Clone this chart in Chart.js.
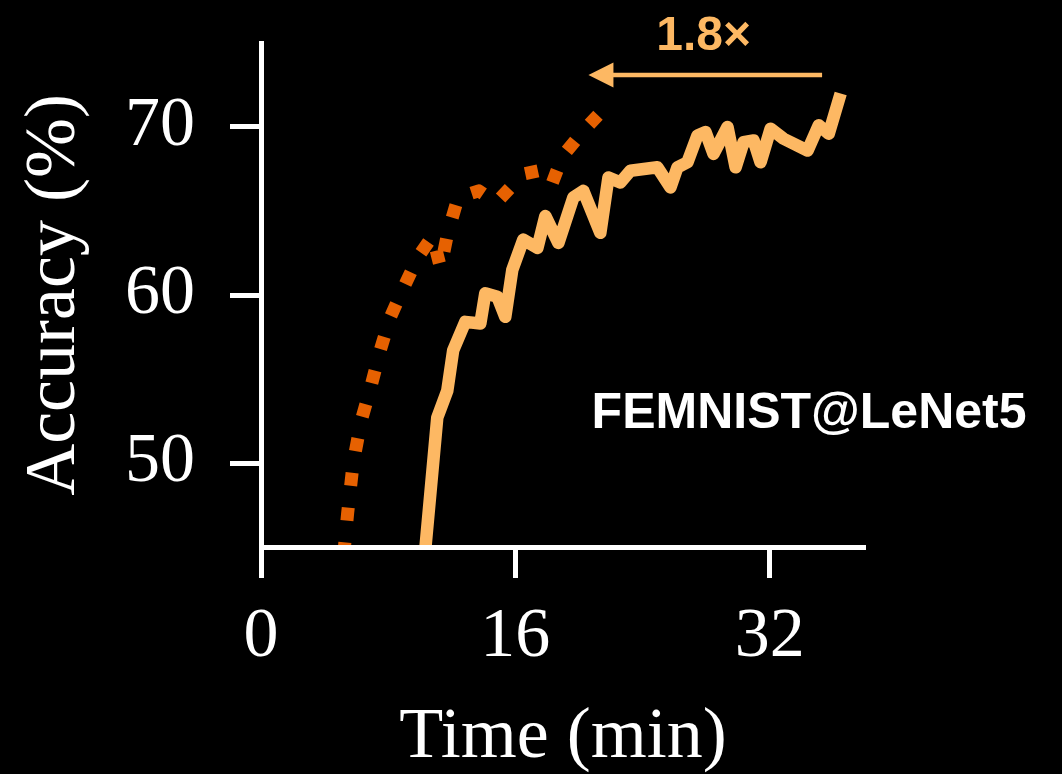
<!DOCTYPE html>
<html>
<head>
<meta charset="utf-8">
<script src="https://cdn.jsdelivr.net/npm/chart.js@4.4.1/dist/chart.umd.min.js"></script>
<style>
  html, body { margin: 0; padding: 0; background: #000; }
  canvas { display: block; }
</style>
</head>
<body>
<canvas id="accChart" width="1062" height="774"></canvas>
<script>
// faster run (dotted)
const timeFast = [5.2, 5.45, 5.8, 6.3, 6.9, 7.5, 8.1, 9.0, 9.9, 10.8, 11.3, 11.75, 12.4, 13.7, 14.8, 16.5, 17.5, 18.0, 18.3, 18.7, 19.0, 20.4, 21.2];
const accFast = [44.5, 47.0, 50.0, 52.5, 54.5, 56.7, 58.6, 60.5, 62.3, 63.5, 61.6, 63.7, 65.8, 66.2, 65.5, 67.2, 67.4, 67.1, 66.6, 67.6, 68.3, 69.9, 70.7];

// baseline run (solid)
const timeBase = [10.3, 11.09, 11.72, 12.09, 12.85, 13.8, 14.11, 14.87, 15.37, 15.81, 16.5, 17.39, 17.89, 18.71, 19.65, 20.28, 21.35, 21.86, 22.61, 23.24, 24.94, 25.76, 26.2, 26.83, 27.46, 27.97, 28.47, 29.35, 29.86, 30.36, 30.99, 31.43, 32.06, 32.88, 34.39, 35.09, 35.72, 36.47];
const accBase = [44.5, 52.7, 54.3, 56.7, 58.4, 58.3, 60.1, 59.9, 58.7, 61.5, 63.3, 62.8, 64.7, 63.1, 65.8, 66.2, 63.7, 67.0, 66.7, 67.4, 67.6, 66.4, 67.6, 67.9, 69.5, 69.7, 68.4, 70.0, 67.6, 69.1, 69.2, 67.9, 69.9, 69.3, 68.6, 70.1, 69.6, 72.0];

const xTicks = [0, 16, 32];
const yTicks = [50, 60, 70];

// speedup arrow (time from -> to, at accuracy level)
const arrowFrom = 35.3, arrowTo = 20.6, arrowAcc = 73.1;
const speedupLabel = "1.8×";
const taskLabel = "FEMNIST@LeNet5";

const lightOrange = "#fdb863";
const darkOrange = "#e66101";

const toPoints = (xs, ys) => xs.map((t, i) => ({ x: t, y: ys[i] }));

const annotate = {
  id: "annotate",
  afterDraw(chart) {
    const { ctx, scales: { x, y } } = chart;
    ctx.save();
    const ay = y.getPixelForValue(arrowAcc);
    const x0 = x.getPixelForValue(arrowFrom);
    const x1 = x.getPixelForValue(arrowTo);
    ctx.strokeStyle = lightOrange;
    ctx.fillStyle = lightOrange;
    ctx.lineWidth = 4.5;
    ctx.beginPath();
    ctx.moveTo(x0, ay);
    ctx.lineTo(x1 + 20, ay);
    ctx.stroke();
    ctx.beginPath();
    ctx.moveTo(x1, ay);
    ctx.lineTo(x1 + 25, ay - 12.5);
    ctx.lineTo(x1 + 25, ay + 12.5);
    ctx.closePath();
    ctx.fill();

    ctx.font = "bold 48px 'Liberation Sans', Arial, sans-serif";
    ctx.textAlign = "center";
    ctx.textBaseline = "middle";
    ctx.fillText(speedupLabel, x.getPixelForValue(27.85), y.getPixelForValue(75.4));

    ctx.fillStyle = "#fff";
    ctx.font = "bold 50px 'Liberation Sans', Arial, sans-serif";
    ctx.textAlign = "left";
    ctx.fillText(taskLabel, x.getPixelForValue(20.8), y.getPixelForValue(52.9));
    ctx.restore();
  },
};

const serif = "'Liberation Serif', 'Times New Roman', serif";

const ctx = document.getElementById("accChart").getContext("2d");
const accChart = new Chart(ctx, {
  type: "line",
  data: {
    datasets: [
      {
        label: "Fast",
        data: toPoints(timeFast, accFast),
        borderColor: darkOrange,
        borderWidth: 13,
        borderDash: [13, 22],
        borderCapStyle: "butt",
        borderJoinStyle: "round",
        pointRadius: 0,
        tension: 0,
        clip: 0,
      },
      {
        label: "Baseline",
        data: toPoints(timeBase, accBase),
        borderColor: lightOrange,
        borderWidth: 12.5,
        borderCapStyle: "butt",
        borderJoinStyle: "round",
        pointRadius: 0,
        tension: 0,
        clip: 0,
      },
    ],
  },
  options: {
    responsive: false,
    animation: false,
    layout: {
      padding: { left: 0, right: 197, top: 43, bottom: 0 },
    },
    plugins: {
      legend: { display: false },
      tooltip: { enabled: false },
    },
    scales: {
      x: {
        type: "linear",
        min: 0,
        max: 38,
        afterFit(s) { s.height = 227; s.paddingLeft = 0; s.paddingRight = 0; },
        afterBuildTicks(s) { s.ticks = xTicks.map((v) => ({ value: v })); },
        grid: { drawOnChartArea: false, drawTicks: true, tickLength: 31, tickWidth: 5, tickColor: "#fff", color: "#fff" },
        border: { display: true, color: "#fff", width: 5, z: 1 },
        ticks: { color: "#fff", font: { family: serif, size: 70 }, padding: 18, maxRotation: 0, autoSkip: false },
        title: { display: true, text: "Time (min)", color: "#fff", font: { family: serif, size: 72, lineHeight: 1 }, padding: { top: 0, bottom: 0 } },
      },
      y: {
        min: 45,
        max: 75,
        afterFit(s) { s.width = 261; s.paddingTop = 0; s.paddingBottom = 0; },
        afterBuildTicks(s) { s.ticks = yTicks.map((v) => ({ value: v })); },
        grid: { drawOnChartArea: false, drawTicks: true, tickLength: 31, tickWidth: 5, tickColor: "#fff", color: "#fff" },
        border: { display: true, color: "#fff", width: 5, z: 1 },
        ticks: { color: "#fff", font: { family: serif, size: 70 }, padding: 35 },
        title: { display: true, text: "Accuracy (%)", color: "#fff", font: { family: serif, size: 72 }, padding: { top: 12, bottom: 0 } },
      },
    },
  },
  plugins: [annotate],
});
</script>
</body>
</html>
